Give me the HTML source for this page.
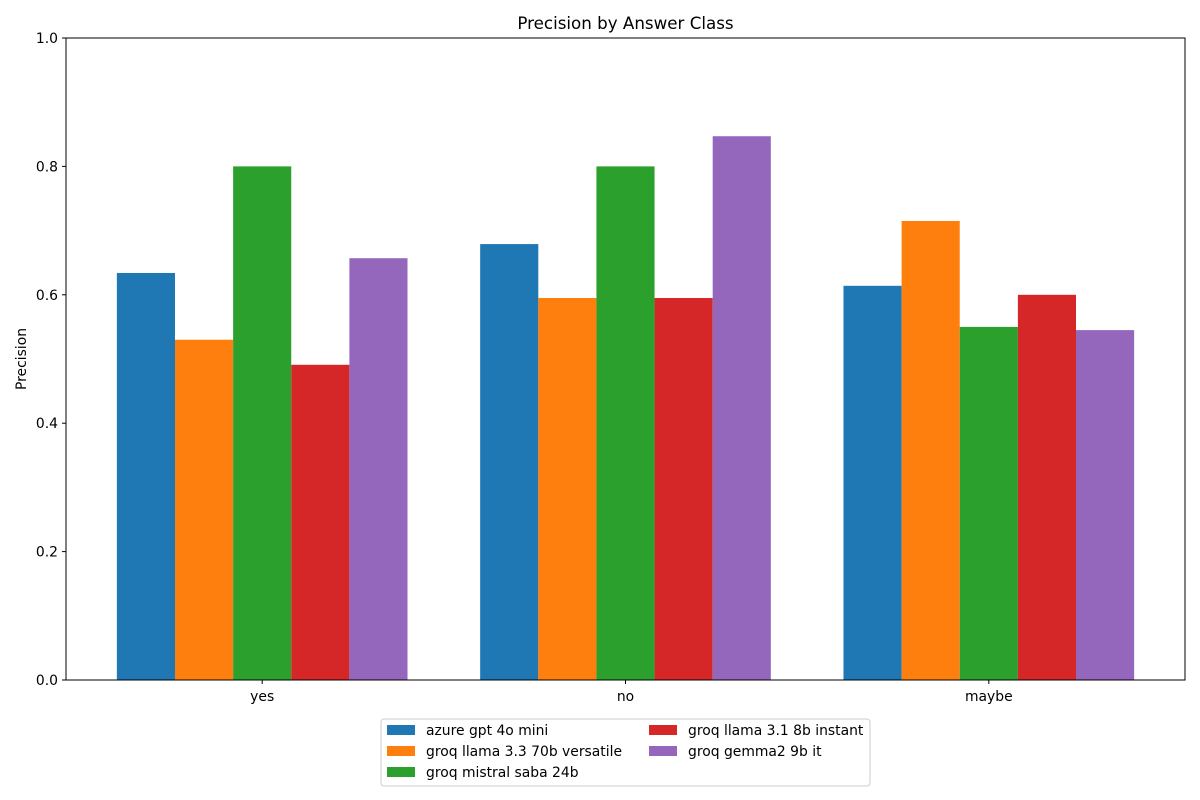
<!DOCTYPE html>
<html><head><meta charset="utf-8"><style>
body{margin:0;background:#fff;}
svg{display:block;font-family:"DejaVu Sans","Liberation Sans",sans-serif;}
</style></head><body>
<svg id="chart" width="1200" height="800">
<text x="625.5" y="29" font-size="16.7" text-anchor="middle">Precision by Answer Class</text>
<text transform="translate(26,359) rotate(-90)" font-size="13.9" text-anchor="middle">Precision</text>
<g id="bars"></g>
<g id="yticks"></g>
<g id="xticks"></g>
<rect x="66" y="38" width="1119" height="642" fill="none" stroke="#000" stroke-width="1"/>
<g id="legend">
<rect x="381" y="719" width="489" height="67" rx="3" fill="#fff" stroke="#ccc"/>
</g>
</svg>
<script>
const categories=["yes","no","maybe"];
const seriesNames=["azure gpt 4o mini","groq llama 3.3 70b versatile","groq mistral saba 24b","groq llama 3.1 8b instant","groq gemma2 9b it"];
const azure=[0.634,0.679,0.614];
const llama70=[0.530,0.595,0.715];
const mistral=[0.800,0.800,0.550];
const llama8=[0.491,0.595,0.600];
const gemma=[0.657,0.847,0.545];
const yTickLabels=["0.0","0.2","0.4","0.6","0.8","1.0"];
const seriesValues=[azure,llama70,mistral,llama8,gemma];
const colors=["#1f77b4","#ff7f0e","#2ca02c","#d62728","#9467bd"];
const NS="http://www.w3.org/2000/svg";
const x=v=>66+(v+0.54)*(1119/3.08);
const y=v=>680-v*642;
const bw=0.16;
function mk(t,a,p){const e=document.createElementNS(NS,t);for(const k in a)e.setAttribute(k,a[k]);p.appendChild(e);return e;}
const bars=document.getElementById('bars');
seriesValues.forEach((vals,s)=>{vals.forEach((v,i)=>{
 const c=i+(s-2)*bw;
 const r=mk('rect',{x:x(c-bw/2),y:y(v),width:x(c+bw/2)-x(c-bw/2),height:y(0)-y(v),fill:colors[s]},bars);
 
 
});});
const yt=document.getElementById('yticks');
yTickLabels.forEach(l=>{const v=parseFloat(l);
 const t=mk('line',{x1:62,x2:66,y1:y(v),y2:y(v),stroke:'#000'},yt);
 
 
 const tx=mk('text',{x:58,y:y(v)+5,'font-size':13.9,'text-anchor':'end'},yt);tx.textContent=l;
 
 
});
const xt=document.getElementById('xticks');
categories.forEach((c,i)=>{
 const t=mk('line',{x1:x(i),x2:x(i),y1:680,y2:684,stroke:'#000'},xt);
 
 
 const tx=mk('text',{x:x(i),y:701,'font-size':13.9,'text-anchor':'middle'},xt);tx.textContent=c;
 
 
});
const lg=document.getElementById('legend');
seriesNames.forEach((n,s)=>{
 const col=s<3?0:1,row=s<3?s:s-3;
 const px=col?649:387,py=725+row*21;
 const g=mk('g',{},lg);
 
 
 mk('rect',{x:px,y:py,width:28,height:10,fill:colors[s]},g);
 const t=mk('text',{x:px+39,y:py+10,'font-size':13.9},g);t.textContent=n;
});
</script>
</body></html>
